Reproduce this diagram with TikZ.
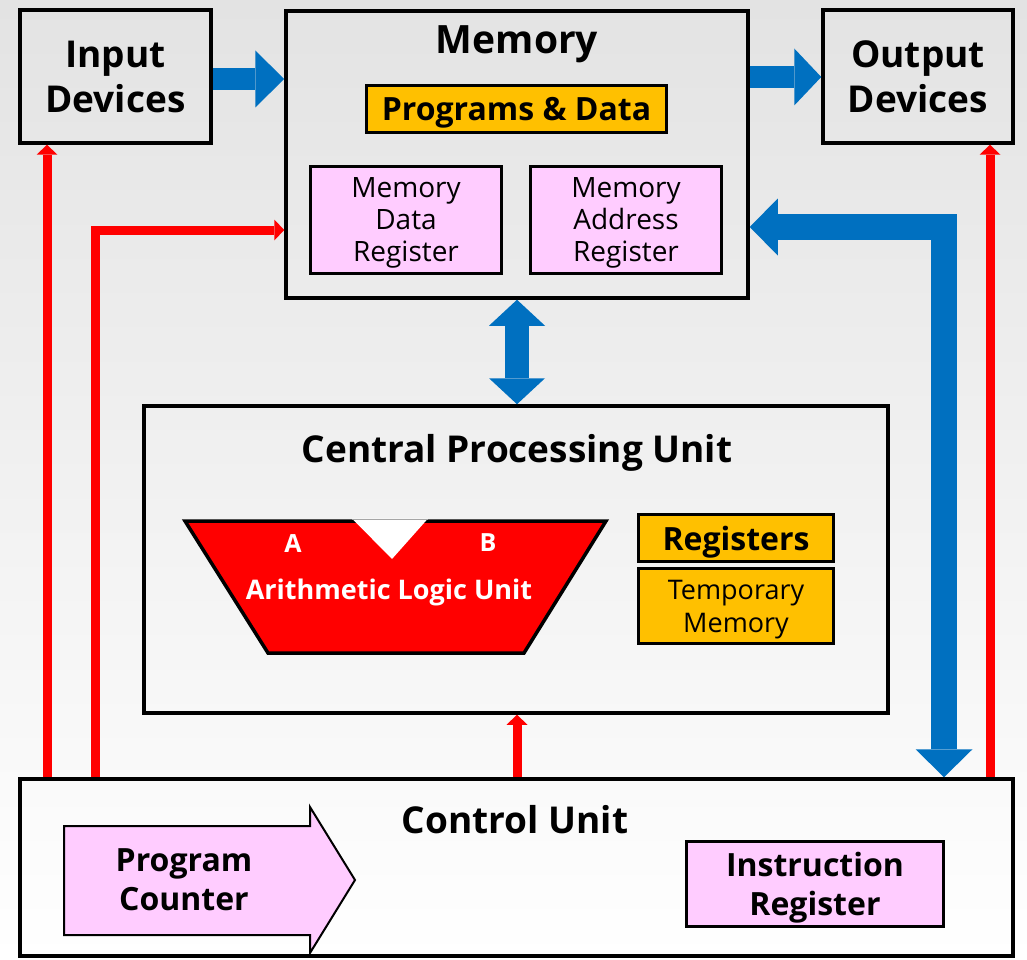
\documentclass[tikz,border=0pt]{standalone}
\usepackage{fontspec}
\setmainfont{Open Sans}
\usetikzlibrary{arrows.meta}

\definecolor{flowblue}{HTML}{0070C0}
\definecolor{ctrlred}{HTML}{FF0000}
\definecolor{regorange}{HTML}{FFC000}
\definecolor{regpink}{HTML}{FFCCFF}

\begin{document}
\begin{tikzpicture}[x=1pt,y=-1pt,
  every node/.style={text depth=0pt},
  unit/.style={draw=black, line width=3.5pt, inner sep=0pt},
  part/.style={draw=black, line width=3pt, inner sep=0pt, align=center},
  orangebox/.style={part, fill=regorange},
  pinkbox/.style={part, fill=regpink},
  title/.style={font=\fontsize{39}{46}\selectfont\bfseries},
  bigtext/.style={align=center, font=\fontsize{37}{45}\selectfont\bfseries},
  midbold/.style={font=\fontsize{32}{39}\selectfont\bfseries},
  plain/.style={font=\fontsize{28}{32}\selectfont},
  alutext/.style={text=white, font=\fontsize{#1}{30}\selectfont\bfseries},
  bus/.style={draw=flowblue, line width=#1, line join=miter},
  ctrl/.style={draw=ctrlred, line width=9pt, line join=miter,
    -{Triangle[length=10pt,width=21pt,line width=0pt]}},
]
% page background
\shade[top color=black!11, middle color=black!4, bottom color=white] (0,0) rectangle (1027,960);
\useasboundingbox (0,0) rectangle (1027,960);

% ---------- top row ----------
\node[unit, minimum width=191pt, minimum height=133pt, bigtext] (inp) at (115.5,76.5) {Input\\Devices};
\node[unit, minimum width=462pt, minimum height=287pt] (mem) at (517,154.5) {};
\node[title] (memt) at (517,40) {Memory};
\node[unit, minimum width=190pt, minimum height=133pt, bigtext] (out) at (918,76.5) {Output\\Devices};

\node[orangebox, minimum width=300pt, minimum height=47pt, midbold] (pd) at (516.5,109) {Programs \& Data};
\node[pinkbox, minimum width=191pt, minimum height=107pt, plain] (mdr) at (406,220) {Memory\\Data\\Register};
\node[pinkbox, minimum width=191pt, minimum height=107pt, plain] (mar) at (626,220) {Memory\\Address\\Register};

% ---------- processor ----------
\node[unit, minimum width=744pt, minimum height=307pt] (cpu) at (516,559.5) {};
\node[font=\fontsize{37}{44}\selectfont\bfseries] (cput) at (517,448) {Central Processing Unit};

% ALU body with its input notch
\draw[line width=3.5pt, fill=ctrlred, line join=miter]
  (185,521) -- (606,521) -- (524,653) -- (268,653) -- cycle;
\fill[white] (352,518.5) -- (428,518.5) -- (392,559) -- cycle;
\draw[black!35, line width=0.8pt] (352,519) -- (428,519);
\node[alutext=25] (alua) at (293,544) {A};
\node[alutext=25] (alub) at (488,543) {B};
\node[alutext=27] (alu) at (389,589) {Arithmetic Logic Unit};

\node[orangebox, minimum width=195pt, minimum height=47pt, midbold] (regs) at (736,538) {Registers};
\node[orangebox, minimum width=195pt, minimum height=75pt, font=\fontsize{27}{33}\selectfont] (tmp) at (736,606) {Temporary\\Memory};

% ---------- control unit ----------
\node[unit, minimum width=993pt, minimum height=177pt] (cu) at (516.5,867.5) {};
\node[font=\fontsize{37}{44}\selectfont\bfseries] (cut) at (515,819) {Control Unit};

\draw[line width=2pt, fill=regpink, line join=miter]
  (64,826) -- (310,826) -- (310,807) -- (355,880) -- (310,953) -- (310,935) -- (64,935) -- cycle;
\node[midbold, align=center] (pc) at (184,880) {Program\\Counter};
\node[pinkbox, minimum width=257pt, minimum height=85pt, midbold] (ir) at (815,884) {Instruction\\Register};

% ---------- data buses ----------
\coordinate (c1) at (47,0);
\coordinate (c2) at (95,230);
\coordinate (c3) at (517,0);
\coordinate (c4) at (990,0);
\coordinate (busx) at (944,227);

\draw[bus=22pt, -{Triangle[length=29pt,width=57pt,line width=0pt]}]
  (inp.east |- 0,79) -- (mem.west |- 0,79);
\draw[bus=22pt, -{Triangle[length=27pt,width=57pt,line width=0pt]}]
  (mem.east |- 0,77) -- (out.west |- 0,77);
\draw[bus=24pt, {Triangle[length=26pt,width=56pt,line width=0pt]}-{Triangle[length=26pt,width=56pt,line width=0pt]}]
  (mem.south -| c3) -- (cpu.north -| c3);
\draw[bus=26pt, {Triangle[length=28pt,width=57pt,line width=0pt]}-{Triangle[length=28pt,width=57pt,line width=0pt]}]
  (mem.east |- busx) -- (busx) -- (cu.north -| busx);

% ---------- control lines ----------
\draw[ctrl] (cu.north -| c1) -- (inp.south -| c1);
\draw[ctrl] (cu.north -| c2) -- (c2) -- (mem.west |- c2);
\draw[ctrl] (cu.north -| c3) -- (cpu.south -| c3);
\draw[ctrl] (cu.north -| c4) -- (out.south -| c4);
\end{tikzpicture}
\end{document}
